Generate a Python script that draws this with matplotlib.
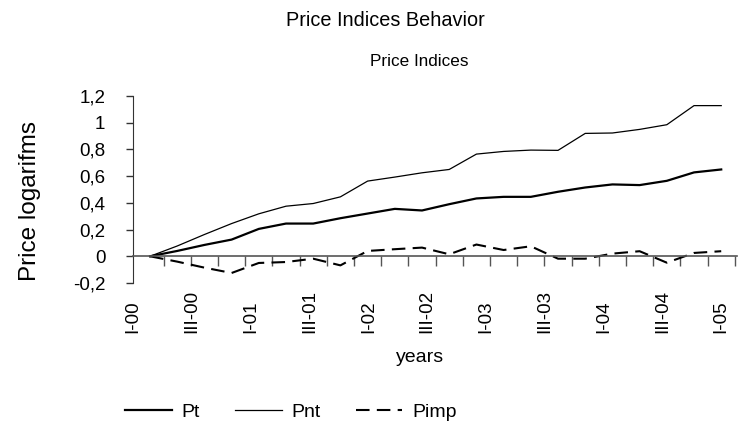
import numpy as np
import matplotlib
matplotlib.use("Agg")
import matplotlib.pyplot as plt
from matplotlib.ticker import FuncFormatter, FixedLocator

plt.rcParams['font.family'] = ['Liberation Sans', 'DejaVu Sans']

# quarters I-00 .. II-05
quarters = ["I-00", "II-00", "III-00", "IV-00", "I-01", "II-01", "III-01", "IV-01",
            "I-02", "II-02", "III-02", "IV-02", "I-03", "II-03", "III-03", "IV-03",
            "I-04", "II-04", "III-04", "IV-04", "I-05", "II-05"]
tick_labels = ["I-00", "III-00", "I-01", "III-01", "I-02", "III-02",
               "I-03", "III-03", "I-04", "III-04", "I-05"]

pt = [0, 0.04, 0.085, 0.125, 0.205, 0.245, 0.245, 0.285, 0.32, 0.355, 0.343,
      0.39, 0.433, 0.445, 0.445, 0.483, 0.515, 0.538, 0.533, 0.565, 0.628, 0.65]
pnt = [0, 0.077, 0.163, 0.245, 0.318, 0.375, 0.395, 0.445, 0.563, 0.593, 0.625,
       0.65, 0.765, 0.785, 0.795, 0.793, 0.92, 0.923, 0.95, 0.985, 1.128, 1.128]
pimp = [0, -0.04, -0.085, -0.125, -0.05, -0.043, -0.018, -0.068, 0.04, 0.053, 0.065,
        0.015, 0.088, 0.047, 0.075, -0.018, -0.018, 0.02, 0.038, -0.048, 0.025, 0.038]

x = np.arange(len(quarters))

fig = plt.figure(figsize=(7.38, 4.23), dpi=100)
ax = fig.add_axes([133 / 738, 1 - 283 / 423, (737 - 133) / 738, (283 - 96) / 423])

ax.plot(x, pt, color="black", lw=1.6, label="Pt")
ax.plot(x, pnt, color="black", lw=0.9, label="Pnt")
ax.plot(x, pimp, color="black", lw=1.5, linestyle=(0, (6.5, 3.5)), label="Pimp")

x_left = -0.625
ax.set_xlim(x_left, 21.58)
ax.set_ylim(-0.2, 1.2)
ax.set_yticks(np.arange(-0.2, 1.21, 0.2))
ax.yaxis.set_major_formatter(FuncFormatter(
    lambda v, p: ("%g" % round(v, 1)).replace(".", ",") if abs(v) > 1e-9 else "0"))
ax.tick_params(axis="y", length=4.8, width=1, color="#333333", pad=15, labelsize=13.5)

ax.spines["top"].set_visible(False)
ax.spines["right"].set_visible(False)
ax.spines["left"].set_color("#333333")
ax.spines["bottom"].set_position(("data", 0))
ax.spines["bottom"].set_color("#555555")
ax.spines["bottom"].set_linewidth(1.2)

# category labels spread along the axis, minor ticks between categories
ax.xaxis.set_major_locator(FixedLocator(np.linspace(x_left, x[-1], len(tick_labels))))
ax.set_xticklabels(tick_labels, rotation=90, va="bottom", fontsize=13.5)
ax.xaxis.set_minor_locator(FixedLocator(x + 0.5))
ax.tick_params(axis="x", which="major", length=0, pad=55.4)
ax.tick_params(axis="x", which="minor", length=7.2, width=1, color="#555555")

fig.text(385 / 738, 1 - 20 / 423, "Price Indices Behavior", ha="center", va="center", fontsize=14.3)
fig.text(419 / 738, 1 - 62 / 423, "Price Indices", ha="center", va="center", fontsize=12.3)
fig.text(30 / 738, 1 - 201 / 423, "Price logarifms", ha="center", va="center", rotation=90, fontsize=17.5)
fig.text(420 / 738, 1 - 357 / 423, "years", ha="center", va="center", fontsize=14)

fig.legend(loc="center", bbox_to_anchor=(291 / 738, 1 - 412 / 423), ncol=3, frameon=False,
           fontsize=14, handlelength=2.4, columnspacing=1.8, handletextpad=0.5)

fig.savefig("out.png", dpi=100)
